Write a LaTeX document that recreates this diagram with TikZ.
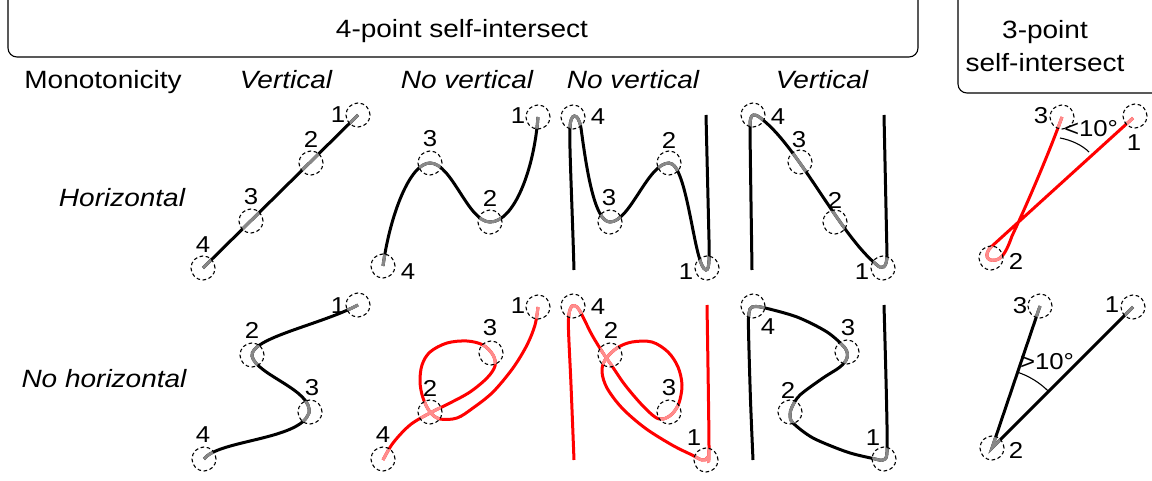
\documentclass[tikz,border=0pt]{standalone}
\usepackage{fontspec}
\setmainfont{Liberation Sans}[FakeStretch=1.12]
\definecolor{hl}{RGB}{136,136,136}
\definecolor{hlred}{RGB}{255,140,140}
\definecolor{tred}{RGB}{255,0,0}
% draw a trace, then redraw the parts inside the marker rings in a lighter tone
\newcommand\traced[4]{%
  \draw[trace,#1] #4;
  \begin{scope}
    \clip #3;
    \draw[trace,#2] #4;
  \end{scope}}
\begin{document}
\begin{tikzpicture}[x=1pt,y=-1pt,
  trace/.style={line width=3pt},
  ring/.style={circle, draw, dash pattern=on 3.6pt off 2.6pt, line width=1.1pt, minimum size=24pt, inner sep=0pt},
  num/.style={font=\fontsize{23}{27}\selectfont, inner sep=0pt},
  head/.style={font=\fontsize{25}{30}\selectfont, inner sep=0pt},
  ihead/.style={font=\fontsize{25}{30}\selectfont\itshape, inner sep=0pt, anchor=base},
  frame/.style={line width=1.1pt, rounded corners=9pt},
  angmark/.style={line width=1.1pt}]
\useasboundingbox (0,0) rectangle (1152,481);

% ---------- group frames and headings ----------
\draw[frame] (8,-20) rectangle (918,57);
\draw[frame] (958,-20) rectangle (1170,93);
\node[head] (g4) at (462,31) {4-point self-intersect};
\node[head] (g3a) at (1045,32) {3-point};
\node[head] (g3b) at (1045,63) {self-intersect};

\node[head, anchor=base] (hmono) at (103,89) {Monotonicity};
\node[ihead] (hc1) at (286,89) {Vertical};
\node[ihead] (hc2) at (467,89) {No vertical};
\node[ihead] (hc3) at (633,89) {No vertical};
\node[ihead] (hc4) at (822,89) {Vertical};
\node[ihead] (hr1) at (122,207) {Horizontal};
\node[ihead] (hr2) at (104,387) {No horizontal};

% ---------- point positions ----------
\coordinate (a1) at (358,115); \coordinate (a2) at (311,163);
\coordinate (a3) at (251,221); \coordinate (a4) at (203,268);
\coordinate (b1) at (538,117); \coordinate (b2) at (490,222);
\coordinate (b3) at (430,163); \coordinate (b4) at (383,266);
\coordinate (c1) at (707,268); \coordinate (c2) at (669,163);
\coordinate (c3) at (610,222); \coordinate (c4) at (573,117);
\coordinate (d1) at (883,268); \coordinate (d2) at (835,222);
\coordinate (d3) at (800,162); \coordinate (d4) at (753,115);
\coordinate (e1) at (358,305); \coordinate (e2) at (252,355);
\coordinate (e3) at (310,412); \coordinate (e4) at (204,459);
\coordinate (f1) at (538,307); \coordinate (f2) at (430,412);
\coordinate (f3) at (491,353); \coordinate (f4) at (383,459);
\coordinate (g1) at (706,460); \coordinate (g2) at (610,355);
\coordinate (g3) at (669,412); \coordinate (g4p) at (573,306);
\coordinate (h1) at (884,459); \coordinate (h2) at (790,412);
\coordinate (h3) at (847,352); \coordinate (h4) at (753,306);
\coordinate (i1) at (1135,116); \coordinate (i2) at (991,258);
\coordinate (i3) at (1062,117);
\coordinate (j1) at (1133,307); \coordinate (j2) at (992,448);
\coordinate (j3) at (1040,306);

% ---------- traces ----------
\traced{black}{hl}{(a1) circle (12pt) (a2) circle (12pt) (a3) circle (12pt) (a4) circle (12pt)}
  {(a4) -- (a1)}
\traced{black}{hl}{(b1) circle (12pt) (b2) circle (12pt) (b3) circle (12pt) (b4) circle (12pt)}
  {(b4) .. controls (390,215) and (410,163) .. (b3) .. controls (452,163) and (468,222) .. (b2) .. controls (514,222) and (534,170) .. (b1)}
\traced{black}{hl}{(c1) circle (12pt) (c2) circle (12pt) (c3) circle (12pt) (c4) circle (12pt)}
  {(574,270) .. controls (572,200) and (569,140) .. (570,128) .. controls (570,113) and (578,111) .. (581,128) .. controls (586,165) and (594,222) .. (c3) .. controls (630,222) and (648,163) .. (c2) .. controls (688,163) and (694,268) .. (706,270) .. controls (710,270) and (709,255) .. (709,240) -- (706,115)}
\traced{black}{hl}{(d1) circle (12pt) (d2) circle (12pt) (d3) circle (12pt) (d4) circle (12pt)}
  {(752,270) .. controls (751,200) and (750,140) .. (750,125) .. controls (750,112) and (755,113) .. (763,120) .. controls (800,150) and (840,235) .. (877,265) .. controls (882,270) and (887,268) .. (887,255) -- (884,115)}
\traced{black}{hl}{(e1) circle (12pt) (e2) circle (12pt) (e3) circle (12pt) (e4) circle (12pt)}
  {(e4) .. controls (218,440) and (300,440) .. (309,413) .. controls (313,390) and (256,375) .. (252,356) .. controls (250,338) and (320,325) .. (e1)}
\traced{tred}{hlred}{(f1) circle (12pt) (f2) circle (12pt) (f3) circle (12pt) (f4) circle (12pt)}
  {plot[smooth, tension=0.55] coordinates {(383,460) (393,443) (410,425) (430,413) (450,403) (470,392) (487,378) (495,366) (493,355) (483,345) (467,341) (447,343) (430,352) (422,365) (420,382) (423,398) (430,412) (440,419) (457,418) (473,408) (493,392) (513,368) (527,345) (535,325) (538,307)}}
\traced{tred}{hlred}{(g1) circle (12pt) (g2) circle (12pt) (g3) circle (12pt) (g4p) circle (12pt)}
  {plot[smooth, tension=0.55] coordinates {(574,460) (571,385) (568.5,330) (569,314) (572,306) (577,307) (582,315) (592,335) (603,353) (612,366) (625,385) (642,405) (655,417) (663,419) (672,414) (679,403) (682,385) (678,367) (668,352) (652,342) (632,342) (617,348) (605,360) (602,372) (607,388) (622,408) (645,428) (672,445) (692,455) (702,460) (707,458) (709,448) (707,305)}}
\traced{black}{hl}{(h1) circle (12pt) (h2) circle (12pt) (h3) circle (12pt) (h4) circle (12pt)}
  {plot[smooth, tension=0.5] coordinates {(753,460) (750.5,400) (748.5,330) (749,313) (752,307) (763,307.5) (797,317) (827,332) (845,348) (847,358) (840,367) (823,378) (800,395) (792,407) (790,415) (793,423) (813,438) (847,452) (873,458.5) (883,460) (887,452) (886.5,400) (884,305)}}
\traced{tred}{hlred}{(i1) circle (12pt) (i2) circle (12pt) (i3) circle (12pt)}
  {(1133,118) -- (991,247) .. controls (984,254) and (986,262) .. (996,260) .. controls (1003,258) and (1007,250) .. (1012,236) .. controls (1030,198) and (1052,145) .. (i3)}
\traced{black}{hl}{(j1) circle (12pt) (j2) circle (12pt) (j3) circle (12pt)}
  {(j3) -- (j2) -- (j1)}

% ---------- angle marks ----------
\draw[angmark] (1060,138) .. controls (1071,140) and (1082,145) .. (1089,152);
\node[num] (angA) at (1091,129) {<10°};
\draw[angmark] (j2) ++(-72:80) arc[start angle=-72, end angle=-45, radius=80];
\node[num] (angB) at (1047,362) {>10°};

% ---------- marker rings ----------
\foreach \p in {a1,a2,a3,a4,b1,b2,b3,b4,c1,c2,c3,c4,d1,d2,d3,d4,e1,e2,e3,e4,f1,f2,f3,f4,g1,g2,g3,g4p,h1,h2,h3,h4,i1,i2,i3,j1,j2,j3}
  \node[ring] (r\p) at (\p) {};

% ---------- point numbers ----------
\node[num] (la1) at (338,115) {1}; \node[num] (la2) at (311,139) {2};
\node[num] (la3) at (251,197) {3}; \node[num] (la4) at (203,245) {4};
\node[num] (lb1) at (518,116) {1}; \node[num] (lb3) at (430,139) {3};
\node[num] (lb2) at (490,198) {2}; \node[num] (lb4) at (408,272) {4};
\node[num] (lc4) at (598,117) {4}; \node[num] (lc3) at (609,198) {3};
\node[num] (lc2) at (669,140) {2}; \node[num] (lc1) at (686,272) {1};
\node[num] (ld4) at (778,117) {4}; \node[num] (ld3) at (799,140) {3};
\node[num] (ld2) at (835,200) {2}; \node[num] (ld1) at (862,272) {1};
\node[num] (le1) at (338,306) {1}; \node[num] (le2) at (252,330) {2};
\node[num] (le3) at (312,388) {3}; \node[num] (le4) at (203,435) {4};
\node[num] (lf1) at (518,306) {1}; \node[num] (lf3) at (490,328) {3};
\node[num] (lf2) at (430,388) {2}; \node[num] (lf4) at (383,435) {4};
\node[num] (lg4) at (598,307) {4}; \node[num] (lg2) at (611,330) {2};
\node[num] (lg3) at (669,388) {3}; \node[num] (lg1) at (694,438) {1};
\node[num] (lh4) at (768,327) {4}; \node[num] (lh3) at (848,328) {3};
\node[num] (lh2) at (788,390) {2}; \node[num] (lh1) at (873,438) {1};
\node[num] (li3) at (1041,116) {3}; \node[num] (li1) at (1134,143) {1};
\node[num] (li2) at (1016,261) {2};
\node[num] (lj3) at (1020,306) {3}; \node[num] (lj1) at (1112,305) {1};
\node[num] (lj2) at (1016,450) {2};
\end{tikzpicture}
\end{document}
